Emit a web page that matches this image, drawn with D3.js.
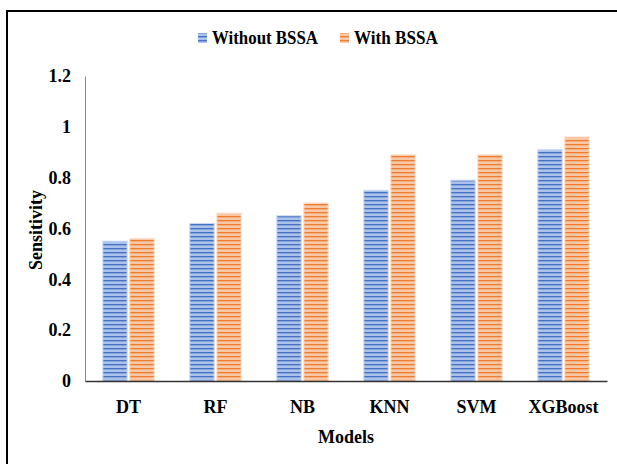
<!DOCTYPE html>
<html>
<head>
<meta charset="utf-8">
<script src="https://cdn.jsdelivr.net/npm/d3@7"></script>
<style>
html,body{margin:0;padding:0;background:#fff;}
svg{display:block;}
</style>
</head>
<body>
<svg id="chart" width="617" height="464"></svg>
<script>
const categories = ["DT","RF","NB","KNN","SVM","XGBoost"];
const seriesNames = ["Without BSSA","With BSSA"];
const withoutBSSA = [0.55,0.62,0.65,0.75,0.79,0.91];
const withBSSA = [0.56,0.66,0.70,0.89,0.89,0.96];
const yTicks = [0,0.2,0.4,0.6,0.8,1,1.2];
const yTickLabels = ["0","0.2","0.4","0.6","0.8","1","1.2"];

const FONT = "'Liberation Serif', 'DejaVu Serif', serif";
const svg = d3.select("#chart");
const x0 = d3.scaleBand().domain(categories).range([85,607]).paddingInner(0.41).paddingOuter(0.205);
const x1 = d3.scaleBand().domain(seriesNames).range([0,x0.bandwidth()]).paddingInner(0.1);
const y = d3.scaleLinear().domain([0,1.2]).range([381,76]);

function styleText(sel, size){
  sel.style("font-family",FONT).style("font-weight","bold").style("font-size",size+"px").style("fill","#000");
}

// patterns
const defs = svg.append("defs");
function makePattern(id, dark, mid, light){
  const p = defs.append("pattern").attr("id",id).attr("patternUnits","userSpaceOnUse")
    .attr("width",4).attr("height",4);
  p.append("rect").attr("x",0).attr("y",0).attr("width",4).attr("height",1.5).attr("fill",dark);
  p.append("rect").attr("x",0).attr("y",1.5).attr("width",4).attr("height",1).attr("fill",mid);
  p.append("rect").attr("x",0).attr("y",2.5).attr("width",4).attr("height",1.5).attr("fill",light);
}
makePattern("pBlue","#4472c4","#6a8fd2","#a9c0ea");
makePattern("pOrange","#ed7d31","#f29a5e","#f9c6a2");
const fills = {"Without BSSA":"url(#pBlue)","With BSSA":"url(#pOrange)"};
const strokes = {"Without BSSA":"#c9d7f1","With BSSA":"#fbdcc6"};

// border
svg.append("path").attr("d","M7,464 V11 H617").attr("fill","none").attr("stroke","#000").attr("stroke-width",2);

// y axis
const yAxis = d3.axisLeft(y).tickValues(yTicks).tickFormat((d,i)=>yTickLabels[i]).tickSize(0).tickPadding(14);
const gy = svg.append("g").attr("transform","translate(85,0)").call(yAxis);
gy.select(".domain").attr("stroke","#888").attr("stroke-width",1);
styleText(gy.selectAll("text"), 18);

// bars
const data = categories.map((c,i)=>({cat:c, vals:[{s:seriesNames[0],v:withoutBSSA[i]},{s:seriesNames[1],v:withBSSA[i]}]}));
const groups = svg.append("g").selectAll("g").data(data).join("g")
  .attr("transform",d=>`translate(${x0(d.cat)},0)`);
groups.selectAll("rect").data(d=>d.vals).join("rect")
  .attr("x",d=>x1(d.s)).attr("width",x1.bandwidth())
  .attr("y",d=>y(d.v)).attr("height",d=>y(0)-y(d.v))
  .attr("fill",d=>fills[d.s]).attr("stroke",d=>strokes[d.s]).attr("stroke-width",1);

// x axis
const xAxis = d3.axisBottom(x0).tickSize(0).tickPadding(19);
const gx = svg.append("g").attr("transform","translate(0,381)").call(xAxis);
gx.select(".domain").attr("stroke","#333").attr("stroke-width",1.5);
styleText(gx.selectAll("text"), 18);

// axis titles
styleText(svg.append("text").attr("x",346).attr("y",443).attr("text-anchor","middle").text("Models"), 18);
styleText(svg.append("text").attr("transform","translate(42,230) rotate(-90)").attr("text-anchor","middle").text("Sensitivity"), 18);

// legend
const legend = [{s:seriesNames[0],x:198,len:106},{s:seriesNames[1],x:340,len:84}];
legend.forEach(l=>{
  svg.append("rect").attr("x",l.x).attr("y",33).attr("width",9).attr("height",10).attr("fill",fills[l.s]);
  styleText(svg.append("text").attr("x",l.x+14).attr("y",44)
    .attr("textLength",l.len).attr("lengthAdjust","spacingAndGlyphs").text(l.s), 18);
});
</script>
</body>
</html>
